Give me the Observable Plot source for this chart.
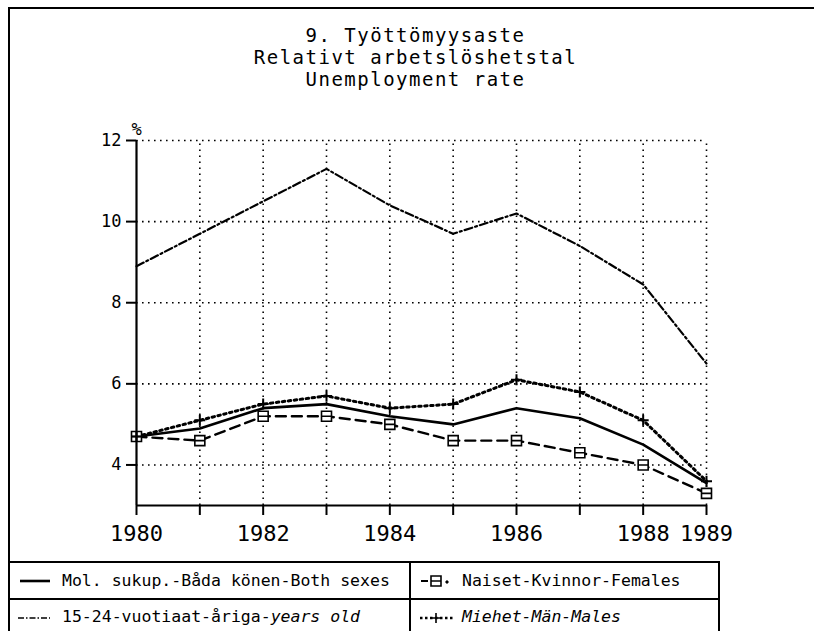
<!DOCTYPE html>
<html><head><meta charset="utf-8">
<script src="https://cdn.jsdelivr.net/npm/d3@7"></script>
<script src="https://cdn.jsdelivr.net/npm/@observablehq/plot@0.6"></script>
<style>
html,body{margin:0;padding:0;background:#fff;overflow:hidden;}
#page{position:relative;width:814px;height:631px;overflow:hidden;font-family:"DejaVu Sans Mono",monospace;color:#000;background:#fff;}
#frame{position:absolute;left:8px;top:7px;width:900px;height:800px;border-top:2px solid #000;border-left:2px solid #000;}
.tl{position:absolute;left:0;width:831px;text-align:center;font-size:19px;line-height:16px;letter-spacing:1.5px;white-space:pre;}
#chart{position:absolute;left:0;top:0;}
#legend{position:absolute;left:8px;top:561px;width:708px;height:120px;border:2px solid #000;}
#hdiv{position:absolute;left:0;top:35px;width:708px;border-top:2px solid #000;}
#vdiv{position:absolute;left:399px;top:0;height:120px;border-left:2px solid #000;}
.lt{position:absolute;font-size:16.5px;line-height:16.5px;white-space:pre;}
#sw{position:absolute;left:0;top:0;}
</style></head>
<body><div id="page">
<div id="frame"></div>
<div class="tl" id="t1" style="top:26.9px"></div>
<div class="tl" id="t2" style="top:48.9px"></div>
<div class="tl" id="t3" style="top:70.9px"></div>
<div id="chart"></div>
<div id="legend"><div id="hdiv"></div><div id="vdiv"></div>
<div class="lt" id="l1" style="left:52px;top:10px"></div>
<div class="lt" id="l2" style="left:52px;top:46px"></div>
<div class="lt" id="l3" style="left:452px;top:10px"></div>
<div class="lt" id="l4" style="left:452px;top:46px;font-style:italic"></div>
</div>
</div>
<script>
const titleLines = ["9. Työttömyysaste", "Relativt arbetslöshetstal", "Unemployment rate"];
const years = [1980, 1981, 1982, 1983, 1984, 1985, 1986, 1987, 1988, 1989];
const bothSexes = [4.7, 4.9, 5.4, 5.5, 5.2, 5.0, 5.4, 5.15, 4.5, 3.55];
const youth = [8.9, 9.7, 10.5, 11.3, 10.4, 9.7, 10.2, 9.4, 8.45, 6.5];
const females = [4.7, 4.6, 5.2, 5.2, 5.0, 4.6, 4.6, 4.3, 4.0, 3.3];
const males = [4.7, 5.1, 5.5, 5.7, 5.4, 5.5, 6.1, 5.8, 5.1, 3.6];
const yTicks = [4, 6, 8, 10, 12];
const xTickLabels = [1980, 1982, 1984, 1986, 1988, 1989];
const yUnit = "%";
const legendLabels = ["Mol. sukup.-Båda könen-Both sexes", "15-24-vuotiaat-åriga-", "years old", "Naiset-Kvinnor-Females", "Miehet-Män-Males"];

document.getElementById("t1").textContent = titleLines[0];
document.getElementById("t2").textContent = titleLines[1];
document.getElementById("t3").textContent = titleLines[2];
document.getElementById("l1").textContent = legendLabels[0];
document.getElementById("l2").innerHTML = legendLabels[1] + "<i>" + legendLabels[2] + "</i>";
document.getElementById("l3").textContent = legendLabels[3];
document.getElementById("l4").textContent = legendLabels[4];

const rows = s => years.map((year, i) => ({year, value: s[i]}));

const squareBar = {draw(ctx, size) {
  const s = Math.sqrt(size / Math.PI);
  ctx.moveTo(-s, -s); ctx.lineTo(s, -s); ctx.lineTo(s, s); ctx.lineTo(-s, s); ctx.closePath();
  ctx.moveTo(-s, 0); ctx.lineTo(s, 0);
}};
const plusSym = {draw(ctx, size) {
  const s = Math.sqrt(size / Math.PI);
  ctx.moveTo(-s, 0); ctx.lineTo(s, 0); ctx.moveTo(0, -s); ctx.lineTo(0, s);
}};

const dotted = "1.6,4.4";
const chart = Plot.plot({
  width: 814, height: 560,
  marginLeft: 136, marginRight: 108, marginTop: 140, marginBottom: 55,
  style: {fontFamily: "DejaVu Sans Mono", background: "transparent", color: "#000", overflow: "visible"},
  x: {domain: [1980, 1989]},
  y: {domain: [3, 12]},
  marks: [
    Plot.ruleY(yTicks, {x1: 1980, x2: 1989, stroke: "#000", strokeWidth: 1.6, strokeDasharray: dotted}),
    Plot.ruleX(years.slice(1), {y1: 3, y2: 12, stroke: "#000", strokeWidth: 1.6, strokeDasharray: dotted}),
    Plot.line(rows(youth), {x: "year", y: "value", stroke: "#000", strokeWidth: 2.2, strokeDasharray: "8,3,2,3"}),
    Plot.line(rows(females), {x: "year", y: "value", stroke: "#000", strokeWidth: 2.4, strokeDasharray: "10,6"}),
    Plot.line(rows(males), {x: "year", y: "value", stroke: "#000", strokeWidth: 3, strokeDasharray: "2.5,3.5"}),
    Plot.line(rows(bothSexes), {x: "year", y: "value", stroke: "#000", strokeWidth: 2.6}),
    Plot.dot(rows(females), {x: "year", y: "value", symbol: squareBar, r: 5, fill: "#fff", stroke: "#000", strokeWidth: 1.6}),
    Plot.dot(rows(males), {x: "year", y: "value", symbol: plusSym, r: 5.5, fill: "none", stroke: "#000", strokeWidth: 2}),
    Plot.ruleX([1980], {y1: 3, y2: 12, stroke: "#000", strokeWidth: 2.2}),
    Plot.ruleY([3], {x1: 1980, x2: 1989, stroke: "#000", strokeWidth: 2.2}),
    Plot.axisX({ticks: years, tickSize: 10, tickPadding: 10, strokeWidth: 2, fontSize: 22, label: null,
      tickFormat: d => xTickLabels.includes(d) ? String(d) : ""}),
    Plot.axisY({ticks: yTicks, tickSize: 10, tickPadding: 5, strokeWidth: 2, fontSize: 17, label: null,
      tickFormat: d => String(d)}),
    Plot.text([yUnit], {frameAnchor: "top-left", dx: -5, dy: -18, fontSize: 17, fill: "#000"})
  ]
});
document.getElementById("chart").appendChild(chart);

// legend swatches
const sw = d3.select("#legend").append("svg").attr("id", "sw").attr("width", 708).attr("height", 120);
const g = sw.append("g").attr("stroke", "#000").attr("fill", "none");
g.append("line").attr("x1", 10).attr("x2", 40).attr("y1", 18).attr("y2", 18).attr("stroke-width", 2.6);
g.append("line").attr("x1", 8).attr("x2", 40).attr("y1", 55).attr("y2", 55).attr("stroke-width", 1.6).attr("stroke-dasharray", "6,2,1.5,2");
g.append("line").attr("x1", 411).attr("x2", 418).attr("y1", 18).attr("y2", 18).attr("stroke-width", 2);
g.append("path").attr("d", "M421,13h10v10h-10zM421,18h10").attr("stroke-width", 1.6);
g.append("circle").attr("cx", 437).attr("cy", 19).attr("r", 1.2).attr("fill", "#000");
g.append("line").attr("x1", 410).attr("x2", 443).attr("y1", 55).attr("y2", 55).attr("stroke-width", 2.4).attr("stroke-dasharray", "2.5,2.5");
g.append("path").attr("d", "M421,55h10M426,50v10").attr("stroke-width", 1.6);
</script>
</body></html>
